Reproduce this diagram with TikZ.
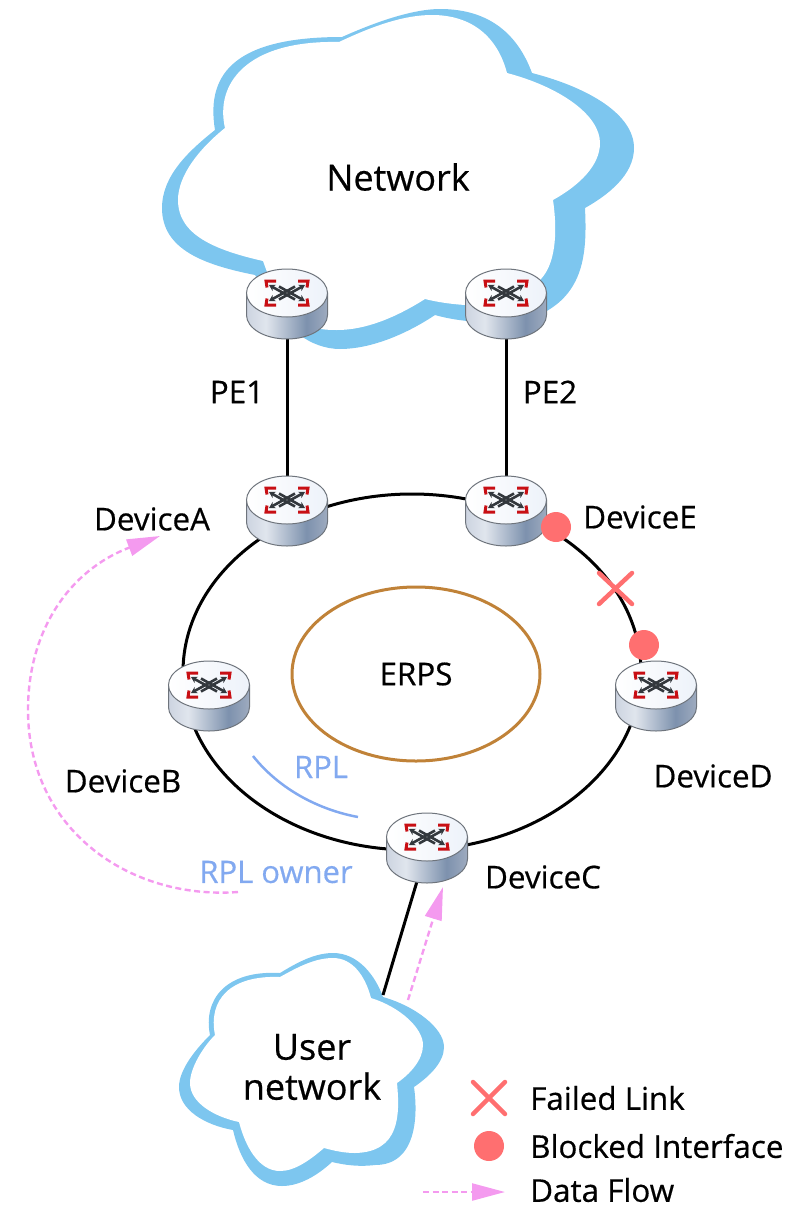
\documentclass[tikz,border=0pt]{standalone}
\usepackage{fontspec}
\setmainfont{Open Sans}[RawFeature={embolden=0.5}]
\usetikzlibrary{arrows.meta,shapes.geometric,positioning}

\definecolor{cloudblue}{HTML}{7DC6EF}
\definecolor{flowpink}{HTML}{F49AEF}
\definecolor{faultred}{HTML}{FF6F70}
\definecolor{rplblue}{HTML}{82A9F0}
\definecolor{erpsbrown}{HTML}{C08238}
\definecolor{iconred}{HTML}{C80F14}
\definecolor{icongray}{HTML}{33383D}
\definecolor{routeredge}{HTML}{6E747C}

\pgfdeclarehorizontalshading{routerbody}{100bp}{
  rgb(0bp)=(.80,.83,.88);
  rgb(25bp)=(.80,.83,.88);
  rgb(37bp)=(.88,.90,.93);
  rgb(62bp)=(.49,.57,.68);
  rgb(75bp)=(.62,.67,.75);
  rgb(100bp)=(.65,.70,.77)}
\pgfdeclarehorizontalshading{routertop}{100bp}{
  rgb(0bp)=(1,1,1);
  rgb(25bp)=(1,1,1);
  rgb(75bp)=(.93,.95,.98);
  rgb(100bp)=(.93,.95,.98)}

\tikzset{
  routerbox/.style={ellipse,minimum width=81pt,minimum height=70pt,inner sep=0pt},
  link/.style={line width=3pt,black},
  flow/.style={line width=2.4pt,flowpink,dash pattern=on 6pt off 3.5pt,
    -{Triangle[length=33pt,width=17pt]}},
  devlabel/.style={font=\fontsize{31.4}{34}\selectfont,text=black},
  rpl/.style={font=\fontsize{31}{34}\selectfont,text=rplblue},
  blocked/.style={circle,fill=faultred,minimum size=30pt,inner sep=0pt},
  failed/.style={line width=4.5pt,faultred,line cap=round},
  xarrow/.style={icongray,line width=2.6pt},
  pics/router/.style={code={
    % body, then the top face
    \path[shading=routerbody,draw=routeredge,line width=1pt]
      (-40.5,-11) -- (-40.5,11) arc[start angle=180,end angle=0,x radius=40.5,y radius=24]
      -- (40.5,-11) -- cycle;
    \path[shading=routertop,draw=routeredge,line width=1pt]
      (0,-11) ellipse[x radius=40.5,y radius=24];
    % crossing arrows
    \foreach \sx in {-1,1}{
      \draw[xarrow,{Stealth[length=6pt,width=7pt]}-] (-18*\sx,-19) -- (8*\sx,-4.5);
      \draw[xarrow,-{Stealth[length=6pt,width=7pt]}] (-8*\sx,-17.5) -- (18*\sx,-3);
    }
    % red corners
    \foreach \sx in {-1,1}\foreach \sy in {-1,1}{
      \draw[iconred,line width=3pt]
        (11*\sx,-11+12*\sy) -- (21*\sx,-11+12*\sy) -- (20*\sx,-11+5.5*\sy);
    }
  }}
}

\begin{document}
\begin{tikzpicture}[x=1pt,y=-1pt]
    \useasboundingbox (0,0) rectangle (800,1229);

    % upper cloud, blue outline then white inside
    \fill[cloudblue] (342,37) .. controls (380,20) and (415,9) .. (440,9)
      .. controls (490,9) and (518,35) .. (532,73)
      .. controls (590,88) and (634,115) .. (634,148)
      .. controls (634,175) and (608,195) .. (585,208)
      .. controls (587,250) and (585,290) .. (545,312)
      .. controls (520,325) and (470,325) .. (435,315)
      .. controls (405,335) and (370,349) .. (340,349)
      .. controls (325,349) and (310,343) .. (300,335)
      -- (255,275)
      .. controls (205,265) and (162,250) .. (162,208)
      .. controls (162,175) and (190,150) .. (215,130)
      .. controls (205,70) and (240,37) .. (342,37) -- cycle;
    \fill[white] (339,42) .. controls (375,25) and (405,15) .. (432,15)
      .. controls (470,15) and (497,35) .. (507,73)
      .. controls (560,87) and (600,115) .. (600,143)
      .. controls (600,165) and (580,185) .. (553,200)
      .. controls (558,235) and (555,265) .. (540,280)
      .. controls (525,303) and (490,308) .. (465,305)
      .. controls (450,304) and (437,302) .. (425,299)
      .. controls (395,318) and (365,330) .. (337,330)
      .. controls (320,330) and (310,328) .. (300,320)
      -- (267,272) -- (263,261)
      .. controls (215,250) and (178,235) .. (178,200)
      .. controls (178,175) and (200,148) .. (225,128)
      .. controls (215,85) and (245,40) .. (339,42) -- cycle;

    % lower cloud
    \fill[cloudblue] (280,973) .. controls (298,962) and (315,953) .. (333,953)
      .. controls (358,953) and (375,975) .. (383,997)
      .. controls (415,1006) and (444,1028) .. (444,1047)
      .. controls (444,1062) and (430,1076) .. (414,1087)
      .. controls (418,1115) and (417,1165) .. (375,1165)
      .. controls (358,1167) and (345,1165) .. (332,1162)
      .. controls (318,1175) and (300,1186) .. (282,1186)
      .. controls (255,1186) and (240,1160) .. (233,1130)
      .. controls (205,1125) and (179,1110) .. (179,1087)
      .. controls (179,1070) and (195,1050) .. (210,1035)
      .. controls (203,1000) and (225,970) .. (280,973) -- cycle;
    \fill[white] (280,977) .. controls (298,967) and (315,958) .. (333,958)
      .. controls (352,958) and (365,975) .. (371,998)
      .. controls (400,1007) and (423,1028) .. (423,1045)
      .. controls (423,1060) and (410,1074) .. (397,1083)
      .. controls (400,1115) and (400,1152) .. (355,1153)
      .. controls (345,1153) and (335,1151) .. (324,1148)
      .. controls (310,1160) and (295,1171) .. (280,1171)
      .. controls (258,1171) and (245,1145) .. (239,1122)
      .. controls (215,1117) and (190,1103) .. (190,1083)
      .. controls (190,1068) and (203,1047) .. (215,1035)
      .. controls (208,1000) and (230,975) .. (280,977) -- cycle;

    % device positions
    \node[routerbox] (PE1) at (287,304) {};
    \node[routerbox] (PE2) at (506,304) {};
    \node[routerbox] (DeviceA) at (287,511) {};
    \node[routerbox] (DeviceE) at (506,511) {};
    \node[routerbox] (DeviceB) at (209,696) {};
    \node[routerbox] (DeviceD) at (656,696) {};
    \node[routerbox] (DeviceC) at (427,848) {};
    \coordinate (usernet) at (383,995);
    \coordinate (userflow) at (408,1000);
    \coordinate (ownerstart) at (238,892);
    \coordinate (flowtop) at (160,536);

    % ring and uplinks
    \node[ellipse,draw,line width=3pt,minimum width=458pt,minimum height=356pt,inner sep=0pt] (ring) at (412,672) {};
    \node[ellipse,draw=erpsbrown,line width=3pt,minimum width=248pt,minimum height=174pt,inner sep=0pt,devlabel] (erps) at (416,674) {ERPS};
    \draw[link] (PE1) -- (DeviceA);
    \draw[link] (PE2) -- (DeviceE);
    \draw[link] (DeviceC) -- (usernet);

    % routers go on top of the links
    \foreach \dev in {PE1,PE2,DeviceA,DeviceE,DeviceB,DeviceD,DeviceC}{
      \pic at (\dev) {router};
    }

    % RPL marker
    \draw[line width=2.5pt,rplblue] (253,756) .. controls (280,790) and (320,810) .. (358,817);

    % fault on the ring
    \node[blocked] (blockE) at (556,527) {};
    \node[blocked] (blockD) at (644,645) {};
    \draw[failed] (599,573) -- (632,604);
    \draw[failed] (632,573) -- (599,604);

    % data flow
    \draw[flow] (userflow) -- (443,887);
    \draw[flow] (ownerstart) .. controls (130,900) and (28,830) .. (28,710)
      .. controls (28,630) and (70,570) .. (flowtop);

    % texts
    \node[font=\fontsize{36}{40}\selectfont] (network) at (398,177) {Network};
    \node[devlabel] (pe1text) at (237,392) {PE1};
    \node[devlabel] (pe2text) at (550,392) {PE2};
    \node[devlabel] (atext) at (152,519) {DeviceA};
    \node[devlabel] (etext) at (640,517) {DeviceE};
    \node[devlabel] (btext) at (123,781) {DeviceB};
    \node[devlabel] (dtext) at (713,776) {DeviceD};
    \node[devlabel] (ctext) at (543,877) {DeviceC};
    \node[rpl] (rpltext) at (321,767) {RPL};
    \node[rpl] (ownertext) at (276,872) {RPL owner};
    \node[font=\fontsize{36}{40}\selectfont,align=center] (usertext) at (312,1067) {User\\network};

    % legend
    \draw[failed] (473,1082) -- (505,1114);
    \draw[failed] (505,1082) -- (473,1114);
    \node[blocked] (legblock) at (489,1146) {};
    \coordinate (legstart) at (423,1192);
    \coordinate (legend) at (505,1192);
    \draw[flow] (legstart) -- (legend);
    \node[devlabel,anchor=west,inner sep=0pt] (legfail) at (530,1098) {Failed Link};
    \node[devlabel,anchor=west,inner sep=0pt] (legblocktext) at (530,1146) {Blocked Interface};
    \node[devlabel,anchor=west,inner sep=0pt] (legflow) at (530,1190) {Data Flow};
\end{tikzpicture}
\end{document}
